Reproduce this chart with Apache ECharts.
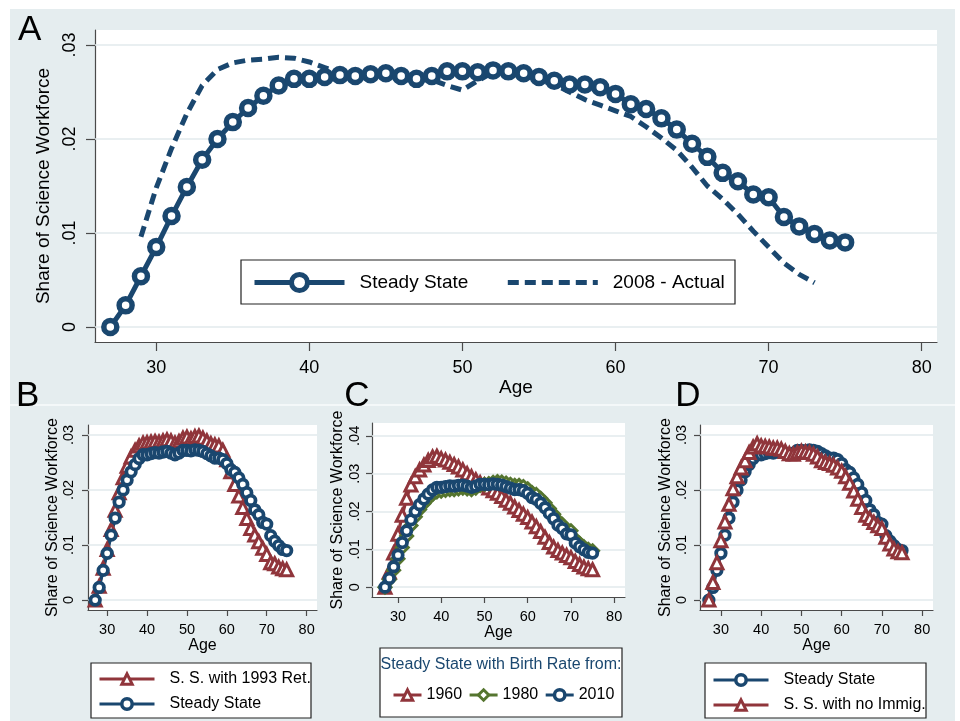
<!DOCTYPE html>
<html>
<head>
<meta charset="utf-8">
<script src="https://cdn.jsdelivr.net/npm/echarts@6/dist/echarts.min.js"></script>
<style>
  html, body { margin: 0; padding: 0; background: #fff; }
  #chart { width: 960px; height: 721px; }
</style>
</head>
<body>
<div id="chart"></div>
<script>
// ages of the simulated cohorts and of the 2008 observed workforce
const ages = [27, 28, 29, 30, 31, 32, 33, 34, 35, 36, 37, 38, 39, 40, 41, 42, 43, 44, 45, 46, 47, 48, 49, 50,
  51, 52, 53, 54, 55, 56, 57, 58, 59, 60, 61, 62, 63, 64, 65, 66, 67, 68, 69, 70, 71, 72, 73, 74, 75];
const ages2008 = [29, 30, 31, 32, 33, 34, 35, 36, 37, 38, 39, 40, 41, 42, 43, 44, 45, 46, 47, 48, 49, 50,
  51, 52, 53, 54, 55, 56, 57, 58, 59, 60, 61, 62, 63, 64, 65, 66, 67, 68, 69, 70, 71, 72, 73];

const steadyState = [0.0000, 0.0023, 0.0054, 0.0085, 0.0118, 0.0149, 0.0178, 0.0200, 0.0218, 0.0233,
  0.0246, 0.0257, 0.0264, 0.0264, 0.0266, 0.0268, 0.0267, 0.0269, 0.0270, 0.0267, 0.0264, 0.0267,
  0.0272, 0.0272, 0.0271, 0.0273, 0.0272, 0.0270, 0.0266, 0.0262, 0.0258, 0.0258, 0.0255, 0.0248,
  0.0237, 0.0232, 0.0222, 0.0210, 0.0195, 0.0181, 0.0164, 0.0155, 0.0141, 0.0138, 0.0117, 0.0107,
  0.0099, 0.0092, 0.0090];
const actual2008 = [0.0096, 0.0148, 0.0190, 0.0227, 0.0257, 0.0274, 0.0281, 0.0284, 0.0285, 0.0287,
  0.0286, 0.0282, 0.0276, 0.0270, 0.0268, 0.0269, 0.0270, 0.0268, 0.0266, 0.0263, 0.0257, 0.0252,
  0.0262, 0.0271, 0.0272, 0.0268, 0.0263, 0.0258, 0.0250, 0.0242, 0.0236, 0.0230, 0.0224, 0.0213,
  0.0201, 0.0188, 0.0170, 0.0150, 0.0136, 0.0120, 0.0102, 0.0085, 0.0068, 0.0056, 0.0047];
const ret1993 = [0.0000, 0.0025, 0.0058, 0.0092, 0.0128, 0.0163, 0.0195, 0.0222, 0.0243, 0.0260,
  0.0272, 0.0280, 0.0285, 0.0286, 0.0287, 0.0288, 0.0287, 0.0289, 0.0291, 0.0289, 0.0285, 0.0288,
  0.0294, 0.0296, 0.0293, 0.0297, 0.0298, 0.0294, 0.0289, 0.0284, 0.0282, 0.0280, 0.0272, 0.0255,
  0.0233, 0.0210, 0.0189, 0.0168, 0.0148, 0.0130, 0.0118, 0.0106, 0.0094, 0.0083, 0.0068, 0.0066,
  0.0060, 0.0057, 0.0055];
const birth1960 = [0.0000, 0.0040, 0.0090, 0.0140, 0.0190, 0.0235, 0.0270, 0.0292, 0.0310, 0.0323,
  0.0335, 0.0344, 0.0346, 0.0340, 0.0336, 0.0330, 0.0324, 0.0318, 0.0310, 0.0300, 0.0292, 0.0284,
  0.0276, 0.0270, 0.0262, 0.0255, 0.0248, 0.0240, 0.0230, 0.0222, 0.0212, 0.0203, 0.0193, 0.0184,
  0.0172, 0.0160, 0.0147, 0.0132, 0.0118, 0.0106, 0.0097, 0.0090, 0.0084, 0.0078, 0.0068, 0.0060,
  0.0053, 0.0049, 0.0046];
const birth1980 = [0.0000, 0.0020, 0.0045, 0.0075, 0.0105, 0.0135, 0.0163, 0.0186, 0.0205, 0.0221,
  0.0234, 0.0245, 0.0252, 0.0254, 0.0256, 0.0258, 0.0258, 0.0260, 0.0262, 0.0260, 0.0258, 0.0262,
  0.0269, 0.0272, 0.0274, 0.0277, 0.0279, 0.0278, 0.0275, 0.0272, 0.0269, 0.0269, 0.0266, 0.0260,
  0.0250, 0.0245, 0.0235, 0.0223, 0.0208, 0.0193, 0.0176, 0.0166, 0.0152, 0.0149, 0.0127, 0.0116,
  0.0107, 0.0100, 0.0096];
const noImmig = [0.0000, 0.0032, 0.0068, 0.0108, 0.0142, 0.0174, 0.0202, 0.0224, 0.0240, 0.0253,
  0.0268, 0.0278, 0.0284, 0.0280, 0.0279, 0.0278, 0.0276, 0.0276, 0.0274, 0.0270, 0.0266, 0.0265,
  0.0268, 0.0270, 0.0269, 0.0268, 0.0265, 0.0260, 0.0253, 0.0250, 0.0248, 0.0245, 0.0240, 0.0234,
  0.0224, 0.0212, 0.0198, 0.0183, 0.0168, 0.0154, 0.0148, 0.0141, 0.0135, 0.0130, 0.0114, 0.0102,
  0.0093, 0.0088, 0.0086];

const xTicks = [30, 40, 50, 60, 70, 80];
const yTicks3 = [0, 0.01, 0.02, 0.03];
const yTicks4 = [0, 0.01, 0.02, 0.03, 0.04];

const NAVY = '#1a476f', MAROON = '#90353b', GREEN = '#55752f';
const BG = '#e5edef', GRIDLINE = '#e2eaed', AXIS = '#4a4a4a';
const FONT = '"Liberation Sans", Arial, Helvetica, sans-serif';

// one entry per panel: A (top), B, C, D (bottom row)
const panels = [
  { grid: { left: 95, top: 30, width: 842, height: 312 }, xMin: 26, xMax: 81, yMin: -0.0016, yMax: 0.0316,
    yTicks: yTicks3, tickFont: 18, titleFont: 19, tickLen: 9, xMargin: 17, yMargin: 16, xNameGap: 35, yNameGap: 38 },
  { grid: { left: 88, top: 425, width: 229, height: 185 }, xMin: 25.2, xMax: 82.6, yMin: -0.0018, yMax: 0.0318,
    yTicks: yTicks3, tickFont: 14.5, titleFont: 16, tickLen: 6, xMargin: 12, yMargin: 11.5, xNameGap: 26, yNameGap: 27.5 },
  { grid: { left: 372, top: 423, width: 253, height: 174 }, xMin: 24, xMax: 82.5, yMin: -0.0026, yMax: 0.0434,
    yTicks: yTicks4, tickFont: 14.5, titleFont: 16, tickLen: 6, xMargin: 12, yMargin: 10, xNameGap: 26, yNameGap: 26.5 },
  { grid: { left: 700, top: 425, width: 233, height: 185 }, xMin: 24.8, xMax: 82.7, yMin: -0.0018, yMax: 0.0318,
    yTicks: yTicks3, tickFont: 14.5, titleFont: 16, tickLen: 6, xMargin: 12, yMargin: 11, xNameGap: 27, yNameGap: 24.5 }
];

function pairs(xs, ys) { return xs.map((x, i) => [x, ys[i]]); }
function stataLabel(v) { return v === 0 ? '0' : String(+v.toFixed(2)).replace(/^0/, ''); }

function xAxisFor(p, i) {
  return {
    type: 'value', gridIndex: i, min: p.xMin, max: p.xMax,
    name: 'Age', nameLocation: 'middle', nameGap: p.xNameGap,
    nameTextStyle: { fontFamily: FONT, fontSize: p.titleFont, color: '#000' },
    axisLine: { show: true, onZero: false, lineStyle: { color: AXIS, width: 1.2 } },
    axisTick: { show: true, length: p.tickLen, customValues: xTicks, lineStyle: { color: AXIS, width: 1.2 } },
    axisLabel: { customValues: xTicks, margin: p.xMargin, fontFamily: FONT, fontSize: p.tickFont, color: '#000' },
    splitLine: { show: false }
  };
}
function yAxisFor(p, i) {
  return {
    type: 'value', gridIndex: i, min: p.yMin, max: p.yMax,
    name: 'Share of Science Workforce', nameLocation: 'middle', nameGap: p.yNameGap,
    nameTextStyle: { fontFamily: FONT, fontSize: p.titleFont, color: '#000' },
    axisLine: { show: true, onZero: false, lineStyle: { color: AXIS, width: 1.2 } },
    axisTick: { show: true, length: p.tickLen, customValues: p.yTicks, lineStyle: { color: AXIS, width: 1.2 } },
    axisLabel: { customValues: p.yTicks, rotate: 90, margin: p.yMargin, formatter: stataLabel,
      fontFamily: FONT, fontSize: p.tickFont, color: '#000' },
    splitLine: { show: false }
  };
}

function markerSeries(name, i, xs, ys, color, symbol, size, border, width) {
  return {
    type: 'line', name: name, xAxisIndex: i, yAxisIndex: i, data: pairs(xs, ys),
    symbol: symbol, symbolSize: size, showSymbol: true,
    lineStyle: { color: color, width: width },
    itemStyle: { color: '#fff', borderColor: color, borderWidth: border },
    emphasis: { disabled: true }, silent: true, animation: false
  };
}
function gridLines(ticks) {
  return { silent: true, z: 1, symbol: ['none', 'none'], label: { show: false }, animation: false,
    lineStyle: { color: GRIDLINE, width: 1.5, type: 'solid' }, emphasis: { disabled: true },
    data: ticks.map(v => ({ yAxis: v })) };
}

const CIRC = 9.5, CIRC_B = 3.8, TRI = 12, TRI_B = 3, LW = 3.2;
const series = [];
// A
const sA = markerSeries('A|Steady State', 0, ages, steadyState, NAVY, 'circle', 13, 5.5, 5);
sA.markLine = gridLines(yTicks3);
series.push(sA);
series.push({
  type: 'line', name: 'A|2008 - Actual', xAxisIndex: 0, yAxisIndex: 0, data: pairs(ages2008, actual2008),
  symbol: 'none', lineStyle: { color: NAVY, width: 5, type: [11, 6], cap: 'butt' },
  itemStyle: { color: NAVY }, emphasis: { disabled: true }, silent: true, animation: false
});
// B
const sB = markerSeries('B|S. S. with 1993 Ret.', 1, ages, ret1993, MAROON, 'triangle', TRI, TRI_B, LW);
sB.markLine = gridLines(yTicks3);
series.push(sB);
series.push(markerSeries('B|Steady State', 1, ages, steadyState, NAVY, 'circle', CIRC, CIRC_B, LW));
// C
const sC = markerSeries('C|1960', 2, ages, birth1960, MAROON, 'triangle', TRI, TRI_B, LW);
sC.markLine = gridLines(yTicks4);
series.push(sC);
series.push(markerSeries('C|1980', 2, ages, birth1980, GREEN, 'diamond', TRI, TRI_B, LW));
series.push(markerSeries('C|2010', 2, ages, steadyState, NAVY, 'circle', CIRC, CIRC_B, LW));
// D
const sD = markerSeries('D|Steady State', 3, ages, steadyState, NAVY, 'circle', CIRC, CIRC_B, LW);
sD.markLine = gridLines(yTicks3);
series.push(sD);
series.push(markerSeries('D|S. S. with no Immig.', 3, ages, noImmig, MAROON, 'triangle', TRI, TRI_B, LW));

function legendItem(name, color, border, lineWidth, dashed) {
  return {
    name: name,
    itemStyle: { color: '#fff', borderColor: color, borderWidth: border, opacity: dashed ? 0 : 1 },
    lineStyle: { color: color, width: lineWidth, type: dashed ? [11, 6] : 'solid' }
  };
}
const legendBase = {
  padding: 0, selectedMode: false, formatter: n => n.split('|')[1],
  textStyle: { fontFamily: FONT, fontSize: 16, color: '#000' }
};
const legends = [
  Object.assign({}, legendBase, {
    left: 252, top: 272, orient: 'horizontal', itemWidth: 90, itemHeight: 20, itemGap: 37,
    textStyle: { fontFamily: FONT, fontSize: 19, color: '#000', padding: [0, 0, 0, 10] },
    data: [legendItem('A|Steady State', NAVY, 5, 5, false), legendItem('A|2008 - Actual', NAVY, 5, 5, true)]
  }),
  Object.assign({}, legendBase, {
    left: 98, top: 671, orient: 'vertical', itemWidth: 55, itemHeight: 13, itemGap: 9,
    textStyle: { fontFamily: FONT, fontSize: 16, color: '#000', padding: [0, 0, 0, 10] },
    data: [legendItem('B|S. S. with 1993 Ret.', MAROON, 3, 3), legendItem('B|Steady State', NAVY, 3.5, 3)]
  }),
  Object.assign({}, legendBase, {
    left: 392, top: 687, orient: 'horizontal', itemWidth: 28, itemHeight: 13, itemGap: 6,
    data: [legendItem('C|1960', MAROON, 3, 3), legendItem('C|1980', GREEN, 3, 3), legendItem('C|2010', NAVY, 3.5, 3)]
  }),
  Object.assign({}, legendBase, {
    left: 712, top: 672, orient: 'vertical', itemWidth: 55, itemHeight: 13, itemGap: 9,
    textStyle: { fontFamily: FONT, fontSize: 16, color: '#000', padding: [0, 0, 0, 10] },
    data: [legendItem('D|Steady State', NAVY, 3.5, 3), legendItem('D|S. S. with no Immig.', MAROON, 3, 3)]
  })
];

function box(x, y, w, h) {
  return { type: 'rect', z: 3, shape: { x: x, y: y, width: w, height: h },
    style: { fill: '#fff', stroke: '#222', lineWidth: 1.2 } };
}
function letter(t, x, y, align) {
  return { type: 'text', z: 10, x: x, y: y,
    style: { text: t, fontFamily: FONT, fontSize: 35, fill: '#000', align: align, verticalAlign: 'middle' } };
}

const chart = echarts.init(document.getElementById('chart'), null, { renderer: 'canvas' });
chart.setOption({
  animation: false,
  backgroundColor: '#fff',
  graphic: { elements: [
    { type: 'rect', z: -10, silent: true, shape: { x: 10, y: 9, width: 945, height: 712 }, style: { fill: BG } },
    { type: 'line', z: -9, silent: true, shape: { x1: 10, y1: 405, x2: 955, y2: 405 }, style: { stroke: '#f4f8f9', lineWidth: 2 } },
    box(241, 260, 494, 44),
    box(91, 663, 220, 55),
    box(380, 648, 242, 69),
    box(705, 663, 221, 55),
    { type: 'text', z: 10, x: 501, y: 665,
      style: { text: 'Steady State with Birth Rate from:', fontFamily: FONT, fontSize: 16, fill: NAVY,
        align: 'center', verticalAlign: 'middle' } },
    letter('A', 18, 30, 'left'),
    letter('B', 16, 396, 'left'),
    letter('C', 357, 396, 'center'),
    letter('D', 688, 396, 'center')
  ] },
  grid: panels.map(p => Object.assign({ show: true, backgroundColor: '#fff', borderWidth: 0, outerBoundsMode: 'none' }, p.grid)),
  xAxis: panels.map(xAxisFor),
  yAxis: panels.map(yAxisFor),
  legend: legends,
  series: series
});
</script>
</body>
</html>
